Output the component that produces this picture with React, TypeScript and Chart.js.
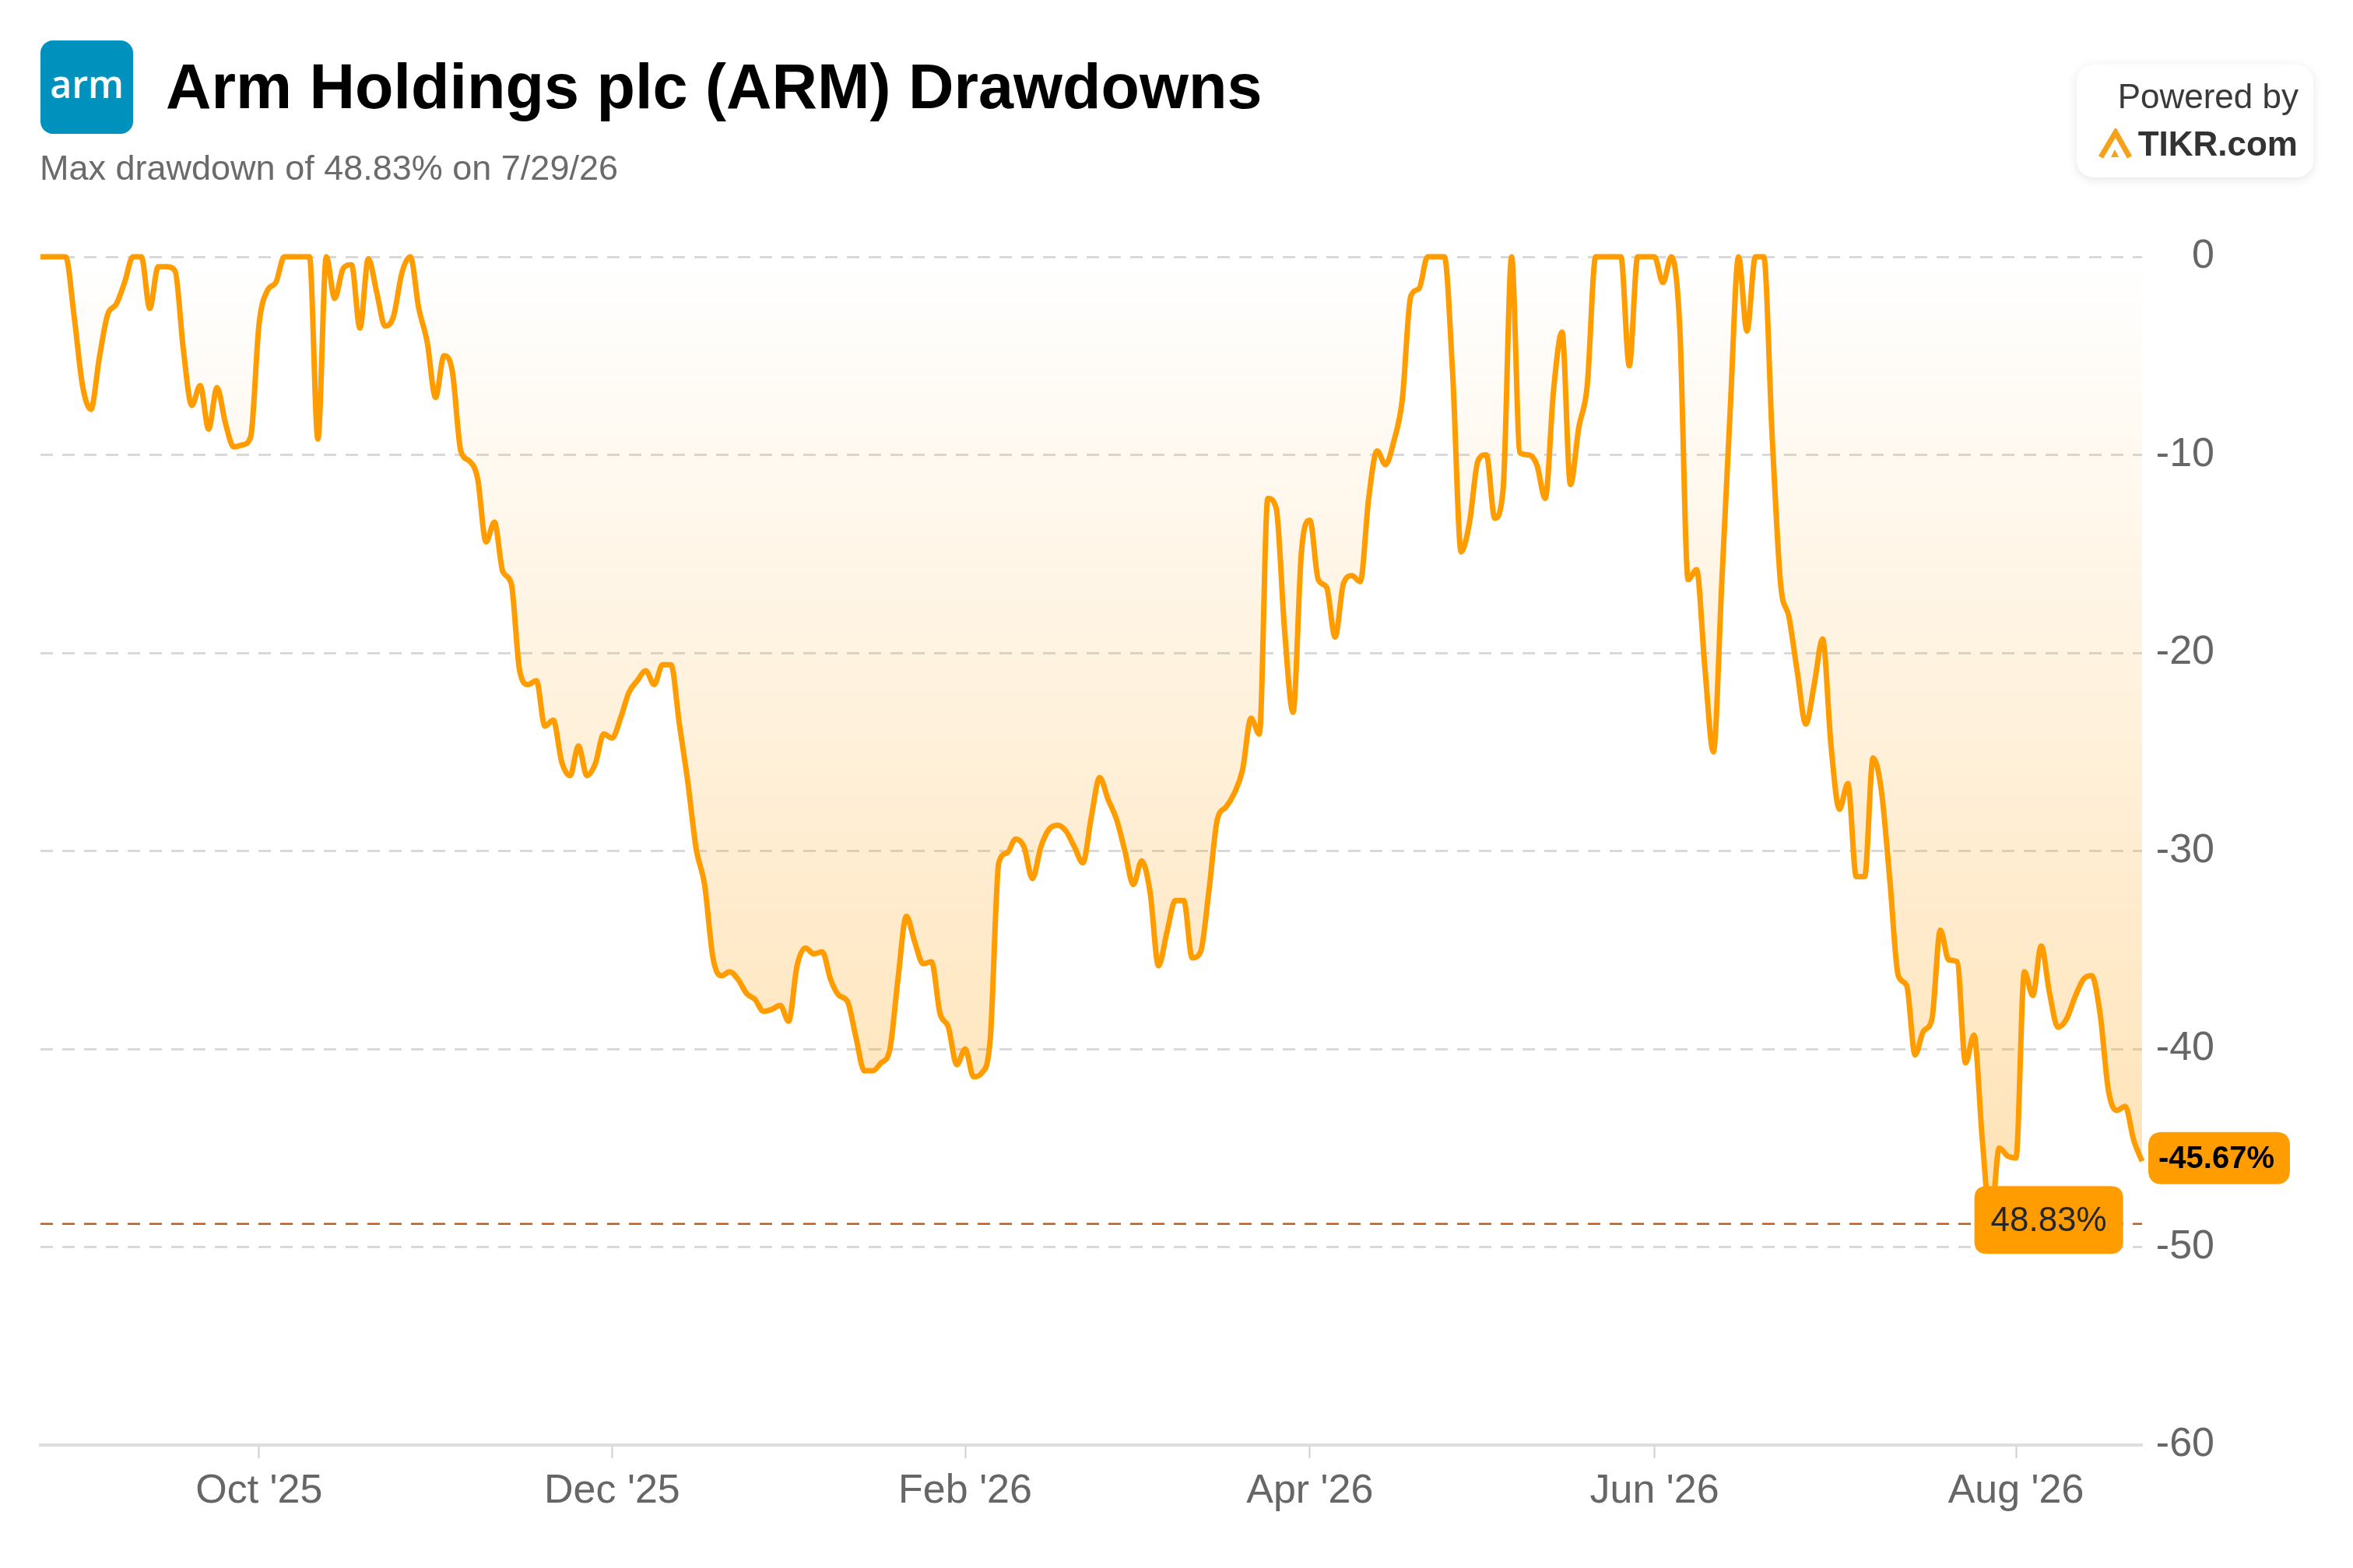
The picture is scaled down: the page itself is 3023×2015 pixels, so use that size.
import { useEffect, useRef } from "react";
import { Chart, registerables } from "chart.js";

Chart.register(...registerables);

const FONT = '"Liberation Sans", Arial, Helvetica, sans-serif';

// Trading calendar (categories)
const START_DATE = "2025-08-25";
const END_DATE = "2026-08-24";
const MARKET_HOLIDAYS = [
  "2025-09-01", "2025-11-27", "2025-12-25", "2026-01-01", "2026-01-19",
  "2026-02-16", "2026-04-03", "2026-05-25", "2026-06-19", "2026-07-03",
];
const TICK_MONTHS = [9, 11, 1, 3, 5, 7];
const MONTH_NAMES = ["Jan", "Feb", "Mar", "Apr", "May", "Jun", "Jul", "Aug", "Sep", "Oct", "Nov", "Dec"];

// Drawdown (%) per trading day
const DRAWDOWN = [
  0, 0, 0, 0, -3.0, -6.5, -7.7, -5.1, -2.9, -2.4,
  -1.3, 0, 0, -2.6, -0.5, -0.5, -0.7, -4.7, -7.5, -6.5,
  -8.7, -6.6, -8.4, -9.6, -9.5, -9.1, -3.4, -1.7, -1.3, 0,
  0, 0, 0, -9.2, 0, -2.1, -0.6, -0.4, -3.6, -0.1,
  -1.8, -3.5, -3.0, -0.8, 0, -2.6, -4.3, -7.1, -5.0, -5.8,
  -9.8, -10.3, -11.2, -14.4, -13.4, -15.9, -16.5, -20.9, -21.6, -21.4,
  -23.7, -23.4, -25.5, -26.2, -24.7, -26.2, -25.6, -24.1, -24.3, -23.3,
  -22.0, -21.4, -20.9, -21.6, -20.6, -20.6, -23.6, -26.5, -29.9, -31.7,
  -35.4, -36.3, -36.1, -36.5, -37.2, -37.5, -38.1, -38.0, -37.8, -38.6,
  -35.8, -34.9, -35.2, -35.1, -36.5, -37.3, -37.6, -39.4, -41.1, -41.1,
  -40.7, -40.1, -36.5, -33.3, -34.6, -35.7, -35.6, -38.2, -38.9, -40.8,
  -40.0, -41.4, -41.2, -39.4, -30.6, -30.1, -29.4, -29.8, -31.4, -29.8,
  -28.9, -28.7, -29.0, -29.8, -30.6, -28.3, -26.3, -27.4, -28.4, -30.0,
  -31.7, -30.5, -32.1, -35.8, -34.1, -32.5, -32.5, -35.4, -35.1, -32.0,
  -28.4, -27.8, -27.1, -25.9, -23.3, -24.1, -12.2, -12.7, -18.9, -23.0,
  -14.9, -13.3, -16.3, -16.7, -19.2, -16.5, -16.1, -16.4, -12.2, -9.8,
  -10.5, -9.3, -7.2, -2.0, -1.6, 0, 0, 0, -6.0, -14.9,
  -13.4, -10.3, -10.0, -13.2, -11.7, 0, -9.9, -10.0, -10.5, -12.2,
  -6.7, -3.8, -11.5, -8.6, -6.5, 0, 0, 0, 0, -5.5,
  0, 0, 0, -1.3, 0, -3.5, -16.3, -15.8, -20.8, -25.0,
  -16.5, -7.8, 0, -3.75, 0, 0, -9.1, -16.5, -18.2, -21.0,
  -23.6, -21.6, -19.3, -24.7, -27.9, -26.6, -31.3, -31.3, -25.3, -27.0,
  -31.5, -36.3, -36.8, -40.3, -39.1, -38.5, -34.0, -35.5, -35.6, -40.7,
  -39.3, -44.6, -48.83, -45.0, -45.4, -45.5, -36.1, -37.3, -34.8, -37.2,
  -38.9, -38.5, -37.4, -36.5, -36.3, -38.2, -42.1, -43.1, -42.9, -44.6,
  -45.67,
];

const Y_MIN = -60;
const Y_MAX = 0;
const Y_STEP = 10;
const MAX_DRAWDOWN = -48.83;
const MAX_DRAWDOWN_DATE = "2026-07-29";
const CURRENT_DRAWDOWN = DRAWDOWN[DRAWDOWN.length - 1];

const TITLE = "Arm Holdings plc (ARM) Drawdowns";

function tradingDays(start: string, end: string, holidays: string[]): string[] {
  const out: string[] = [];
  const d = new Date(start + "T00:00:00Z");
  const e = new Date(end + "T00:00:00Z");
  while (d.getTime() <= e.getTime()) {
    const iso = d.toISOString().slice(0, 10);
    const wd = d.getUTCDay();
    if (wd !== 0 && wd !== 6 && !holidays.includes(iso)) out.push(iso);
    d.setUTCDate(d.getUTCDate() + 1);
  }
  return out;
}

const DATES = tradingDays(START_DATE, END_DATE, MARKET_HOLIDAYS);

function monthOf(iso: string) {
  return Number(iso.slice(5, 7)) - 1;
}

function isTickIndex(i: number) {
  if (i <= 0 || i >= DATES.length) return false;
  const m = monthOf(DATES[i]);
  return m !== monthOf(DATES[i - 1]) && TICK_MONTHS.includes(m);
}

function formatMonth(iso: string) {
  return `${MONTH_NAMES[monthOf(iso)]} '${iso.slice(2, 4)}`;
}

function formatShortDate(iso: string) {
  return `${Number(iso.slice(5, 7))}/${Number(iso.slice(8, 10))}/${iso.slice(2, 4)}`;
}

function roundRect(ctx: CanvasRenderingContext2D, x: number, y: number, w: number, h: number, r: number) {
  ctx.beginPath();
  ctx.moveTo(x + r, y);
  ctx.lineTo(x + w - r, y);
  ctx.quadraticCurveTo(x + w, y, x + w, y + r);
  ctx.lineTo(x + w, y + h - r);
  ctx.quadraticCurveTo(x + w, y + h, x + w - r, y + h);
  ctx.lineTo(x + r, y + h);
  ctx.quadraticCurveTo(x, y + h, x, y + h - r);
  ctx.lineTo(x, y + r);
  ctx.quadraticCurveTo(x, y, x + r, y);
  ctx.closePath();
}

const ORANGE = "#FF9C00";

const annotationPlugin = {
  id: "drawdownAnnotations",
  beforeDatasetsDraw(chart: any) {
    const { ctx, chartArea, scales } = chart;
    const yy = scales.y.getPixelForValue(MAX_DRAWDOWN);
    ctx.save();
    ctx.strokeStyle = "#BF5F1C";
    ctx.lineWidth = 2.5;
    ctx.setLineDash([16, 12]);
    ctx.beginPath();
    ctx.moveTo(chartArea.left, yy);
    ctx.lineTo(chartArea.right, yy);
    ctx.stroke();
    ctx.restore();
  },
  afterDatasetsDraw(chart: any) {
    const { ctx, chartArea, scales } = chart;
    const idx = DATES.indexOf(MAX_DRAWDOWN_DATE);
    const px = scales.x.getPixelForValue(idx);
    const py = scales.y.getPixelForValue(MAX_DRAWDOWN);
    ctx.save();
    // Max drawdown label box
    const bw = 191, bh = 87;
    const bx = px - 21, by = py - 5 - bh / 2;
    ctx.fillStyle = ORANGE;
    roundRect(ctx, bx, by, bw, bh, 16);
    ctx.fill();
    ctx.fillStyle = "#262626";
    ctx.font = `44px ${FONT}`;
    ctx.textAlign = "center";
    ctx.textBaseline = "middle";
    ctx.fillText(`${Math.abs(MAX_DRAWDOWN).toFixed(2)}%`, bx + bw / 2, by + bh / 2 + 2);

    // Current value label on the axis
    const cy = scales.y.getPixelForValue(CURRENT_DRAWDOWN);
    const cw = 182, ch = 67;
    const cx = chartArea.right + 8, cTop = cy - 4 - ch / 2;
    ctx.fillStyle = ORANGE;
    roundRect(ctx, cx, cTop, cw, ch, 18);
    ctx.fill();
    ctx.fillStyle = "#000000";
    ctx.font = `bold 40px ${FONT}`;
    ctx.textAlign = "left";
    ctx.fillText(`${CURRENT_DRAWDOWN.toFixed(2)}%`, cx + 13, cTop + ch / 2 + 2);
    ctx.restore();
  },
};

export default function App() {
  const canvasRef = useRef<HTMLCanvasElement | null>(null);

  useEffect(() => {
    const canvas = canvasRef.current;
    if (!canvas) return;
    Chart.defaults.font.family = FONT;
    const chart = new Chart(canvas, {
      type: "line",
      data: {
        labels: DATES,
        datasets: [
          {
            data: DRAWDOWN,
            borderColor: ORANGE,
            borderWidth: 7,
            pointRadius: 0,
            cubicInterpolationMode: "monotone",
            fill: "origin",
            clip: 10,
            backgroundColor: (c: any) => {
              const { chart: ch } = c;
              const area = ch.chartArea;
              if (!area) return "rgba(255,156,0,0.15)";
              const g = ch.ctx.createLinearGradient(0, area.top, 0, area.bottom);
              g.addColorStop(0, "rgba(255,156,0,0.0)");
              g.addColorStop(1, "rgba(255,156,0,0.36)");
              return g;
            },
          } as any,
        ],
      },
      options: {
        responsive: false,
        animation: false,
        devicePixelRatio: 1,
        layout: { padding: { left: 52, right: 178, top: 330, bottom: 38 } },
        plugins: { legend: { display: false }, tooltip: { enabled: false } },
        scales: {
          x: {
            type: "category",
            offset: false,
            afterBuildTicks: (scale: any) => {
              scale.ticks = scale.ticks.filter((t: any) => isTickIndex(t.value));
            },
            afterFit: (scale: any) => {
              scale.height = 120;
            },
            ticks: {
              autoSkip: false,
              maxRotation: 0,
              padding: 11,
              color: "#666666",
              font: { size: 52, family: FONT },
              callback: (value: any) => formatMonth(DATES[Number(value)]),
            },
            grid: {
              drawOnChartArea: false,
              drawTicks: true,
              tickLength: 17,
              tickColor: "#cfcfcf",
              tickWidth: 2,
            },
            border: { display: true, color: "#dddddd", width: 4 },
          },
          y: {
            position: "right",
            min: Y_MIN,
            max: Y_MAX,
            afterFit: (scale: any) => {
              scale.width = 93;
            },
            ticks: {
              stepSize: Y_STEP,
              padding: 19,
              crossAlign: "far",
              color: "#666666",
              font: { size: 52, family: FONT },
            },
            grid: {
              drawTicks: false,
              lineWidth: 3,
              color: (c: any) => (c.tick && c.tick.value === Y_MIN ? "rgba(0,0,0,0)" : "#d9d9d9"),
            },
            border: { display: false, dash: [16, 12] },
          },
        },
      },
      plugins: [annotationPlugin],
    } as any);
    return () => chart.destroy();
  }, []);

  const subtitle = `Max drawdown of ${Math.abs(MAX_DRAWDOWN).toFixed(2)}% on ${formatShortDate(MAX_DRAWDOWN_DATE)}`;

  return (
    <div
      style={{
        position: "fixed",
        left: 0,
        top: 0,
        width: 3023,
        height: 2015,
        background: "#ffffff",
        overflow: "hidden",
        fontFamily: FONT,
      }}
    >
      <canvas
        ref={canvasRef}
        width={3023}
        height={2015}
        style={{ position: "absolute", left: 0, top: 0, width: 3023, height: 2015 }}
      />
      <div
        style={{
          position: "absolute",
          left: 52,
          top: 52,
          width: 119,
          height: 120,
          borderRadius: 16,
          background: "#0091BD",
          color: "#ffffff",
          display: "flex",
          alignItems: "center",
          justifyContent: "center",
          fontFamily: '"Open Sans", ' + FONT,
          fontWeight: 600,
          fontSize: 48,
          lineHeight: 1,
          paddingBottom: 8,
          boxSizing: "border-box",
        }}
      >
        arm
      </div>
      <div
        style={{
          position: "absolute",
          left: 213,
          top: 71,
          fontSize: 81,
          fontWeight: 700,
          lineHeight: 1,
          color: "#000000",
          whiteSpace: "nowrap",
        }}
      >
        {TITLE}
      </div>
      <div
        style={{
          position: "absolute",
          left: 51,
          top: 193,
          fontSize: 45,
          lineHeight: 1,
          color: "#6b6b6b",
          whiteSpace: "nowrap",
        }}
      >
        {subtitle}
      </div>
      <div
        style={{
          position: "absolute",
          left: 2668,
          top: 83,
          width: 304,
          height: 145,
          borderRadius: 22,
          background: "#ffffff",
          boxShadow: "0 3px 14px rgba(0,0,0,0.10)",
        }}
      />
      <div
        style={{
          position: "absolute",
          right: 70,
          top: 102,
          fontSize: 44,
          lineHeight: 1,
          color: "#3a3a3a",
          whiteSpace: "nowrap",
        }}
      >
        Powered by
      </div>
      <svg
        style={{ position: "absolute", left: 2695, top: 165 }}
        width={45}
        height={40}
        viewBox="0 0 45 40"
      >
        <polyline points="4,37 23,5 41,37" fill="none" stroke="#F7A11A" strokeWidth={7} strokeLinejoin="miter" />
        <polygon points="17,37 22,27 27,37" fill="#F7A11A" />
      </svg>
      <div
        style={{
          position: "absolute",
          right: 71,
          top: 163,
          fontSize: 44,
          fontWeight: 700,
          lineHeight: 1,
          color: "#333333",
          whiteSpace: "nowrap",
        }}
      >
        TIKR.com
      </div>
    </div>
  );
}
